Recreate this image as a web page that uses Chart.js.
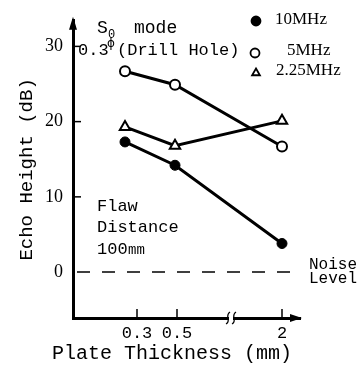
<!DOCTYPE html>
<html>
<head>
<meta charset="utf-8">
<script src="https://cdn.jsdelivr.net/npm/chart.js@4.4.0/dist/chart.umd.min.js"></script>
<style>
  html, body { margin: 0; padding: 0; background: #fff; }
</style>
</head>
<body>
<canvas id="echoChart" width="360" height="367"></canvas>
<script>
// plate thickness (mm) of each measurement
const thickness = [0.24, 0.49, 2];
// echo height (dB) for each probe frequency
const echo10MHz = [17.3, 14.2, 3.8];
const echo5MHz = [26.7, 24.9, 16.7];
const echo225MHz = [19.3, 16.8, 20.1];
const thicknessTicks = [0.3, 0.5, 2];
const heightTicks = [0, 10, 20, 30];
const noiseLevel = 0;

// the x axis is broken between 0.5 and 2, everything past the break moves left
const breakShift = 0.975;
const axisPos = (t) => (t > 1 ? t - breakShift : t);
const xMin = -0.02;
const xMax = 1.115;

const mono = "'Liberation Mono', monospace";
const serif = "'Liberation Serif', serif";

function points(values) {
  return values.map((v, i) => ({ x: axisPos(thickness[i]), y: v }));
}

const decorations = {
  id: "decorations",
  afterDatasetsDraw(chart) {
    const { ctx, chartArea: area, scales: { x, y } } = chart;
    ctx.save();
    ctx.fillStyle = "#000";
    ctx.strokeStyle = "#000";

    // axis arrows
    ctx.beginPath();
    ctx.moveTo(area.left, area.top - 4);
    ctx.lineTo(area.left - 4, area.top + 9);
    ctx.lineTo(area.left + 4, area.top + 9);
    ctx.closePath();
    ctx.fill();
    ctx.beginPath();
    ctx.moveTo(area.right + 2, area.bottom);
    ctx.lineTo(area.right - 10, area.bottom - 4);
    ctx.lineTo(area.right - 10, area.bottom + 4);
    ctx.closePath();
    ctx.fill();

    // inner tick marks
    ctx.lineWidth = 1.5;
    heightTicks.slice(1).forEach((v) => {
      const py = y.getPixelForValue(v);
      ctx.beginPath();
      ctx.moveTo(area.left, py);
      ctx.lineTo(area.left + 8, py);
      ctx.stroke();
    });
    thicknessTicks.forEach((t) => {
      const px = x.getPixelForValue(axisPos(t));
      ctx.beginPath();
      ctx.moveTo(px, area.bottom);
      ctx.lineTo(px, area.bottom - 9);
      ctx.stroke();
    });

    // axis break
    const bx = x.getPixelForValue(0.765);
    ctx.fillStyle = "#fff";
    ctx.fillRect(bx - 1, area.bottom - 3, 4, 6);
    ctx.lineWidth = 1.3;
    [bx - 2, bx + 4].forEach((cx) => {
      ctx.beginPath();
      ctx.moveTo(cx - 2, area.bottom + 6);
      ctx.bezierCurveTo(cx + 4, area.bottom + 3, cx - 4, area.bottom - 2, cx + 2, area.bottom - 6);
      ctx.stroke();
    });

    // texts
    ctx.fillStyle = "#000";
    ctx.textBaseline = "middle";
    ctx.textAlign = "left";
    ctx.font = `18px ${mono}`;
    ctx.fillText("S", 97, 28);
    ctx.fillText("mode", 134, 28);
    ctx.font = `12px ${mono}`;
    ctx.fillText("0", 108, 35);
    ctx.font = `17px ${mono}`;
    ctx.fillText("0.3", 78, 50);
    ctx.fillText("(Drill Hole)", 117, 50);
    ctx.font = `12px 'DejaVu Sans', sans-serif`;
    ctx.fillText("\u03d5", 107, 44);

    ctx.font = `17px ${mono}`;
    ctx.fillText("Flaw", 97, 206);
    ctx.fillText("Distance", 97, 227);
    ctx.fillText("100", 97, 249);
    ctx.font = `14px ${mono}`;
    ctx.fillText("mm", 128, 250);

    ctx.font = `16px ${mono}`;
    ctx.fillText("Noise", 309, 265);
    ctx.fillText("Level", 309, 279);

    ctx.font = `20px ${mono}`;
    ctx.textAlign = "center";
    ctx.fillText("Plate Thickness (mm)", 172, 354);

    // legend
    ctx.textAlign = "left";
    ctx.font = `17px ${serif}`;
    const legend = [
      { label: "10MHz", style: "circle", fill: "#000", mx: 256, my: 21, tx: 275, ty: 20 },
      { label: "5MHz", style: "circle", fill: "#fff", mx: 255, my: 53, tx: 287, ty: 51 },
      { label: "2.25MHz", style: "triangle", fill: "#fff", mx: 256, my: 73, tx: 276, ty: 71 },
    ];
    legend.forEach((item) => {
      ctx.fillStyle = item.fill;
      ctx.strokeStyle = "#000";
      ctx.lineWidth = 1.8;
      Chart.helpers.drawPoint(ctx, { pointStyle: item.style, radius: 4.5, borderWidth: 1.8 }, item.mx, item.my);
      ctx.fillStyle = "#000";
      ctx.fillText(item.label, item.tx, item.ty);
    });
    ctx.restore();
  },
};

const ctx = document.getElementById("echoChart").getContext("2d");
const echoChart = new Chart(ctx, {
  type: "line",
  data: {
    datasets: [
      {
        label: "Noise Level",
        data: [{ x: xMin + 0.02, y: noiseLevel }, { x: xMax - 0.01, y: noiseLevel }],
        borderColor: "#000",
        borderWidth: 1.5,
        borderDash: [13, 12],
        pointRadius: 0,
      },
      {
        label: "10MHz",
        data: points(echo10MHz),
        borderColor: "#000",
        backgroundColor: "#000",
        borderWidth: 3,
        pointStyle: "circle",
        pointRadius: 5,
        pointBorderWidth: 1,
      },
      {
        label: "5MHz",
        data: points(echo5MHz),
        borderColor: "#000",
        backgroundColor: "#fff",
        borderWidth: 3,
        pointStyle: "circle",
        pointRadius: 5,
        pointBorderWidth: 2,
      },
      {
        label: "2.25MHz",
        data: points(echo225MHz),
        borderColor: "#000",
        backgroundColor: "#fff",
        borderWidth: 3,
        pointStyle: "triangle",
        pointRadius: 6,
        pointBorderWidth: 2,
      },
    ],
  },
  options: {
    responsive: false,
    animation: false,
    layout: {
      padding: { top: 15, right: 60, left: 0, bottom: 0 },
    },
    plugins: {
      legend: { display: false },
      tooltip: { enabled: false },
    },
    scales: {
      x: {
        type: "linear",
        min: xMin,
        max: xMax,
        afterBuildTicks: (scale) => {
          scale.ticks = thicknessTicks.map((t) => ({ value: axisPos(t) }));
        },
        afterFit: (scale) => {
          scale.height = 49;
        },
        ticks: {
          callback: (value, index) => String(thicknessTicks[index]),
          autoSkip: false,
          maxRotation: 0,
          padding: 5,
          color: "#000",
          font: { family: mono, size: 17 },
        },
        grid: { display: false, drawTicks: false },
        border: { display: true, color: "#000", width: 3 },
      },
      y: {
        min: -6.1,
        max: 33.4,
        afterBuildTicks: (scale) => {
          scale.ticks = heightTicks.map((v) => ({ value: v }));
        },
        afterFit: (scale) => {
          scale.width = 73;
        },
        ticks: {
          padding: 10,
          color: "#000",
          font: { family: serif, size: 18 },
        },
        grid: { display: false, drawTicks: false },
        border: { display: true, color: "#000", width: 3 },
        title: {
          display: true,
          text: "Echo Height (dB)",
          color: "#000",
          font: { family: mono, size: 19 },
          padding: { top: 16, bottom: 0 },
        },
      },
    },
  },
  plugins: [decorations],
});
</script>
</body>
</html>
